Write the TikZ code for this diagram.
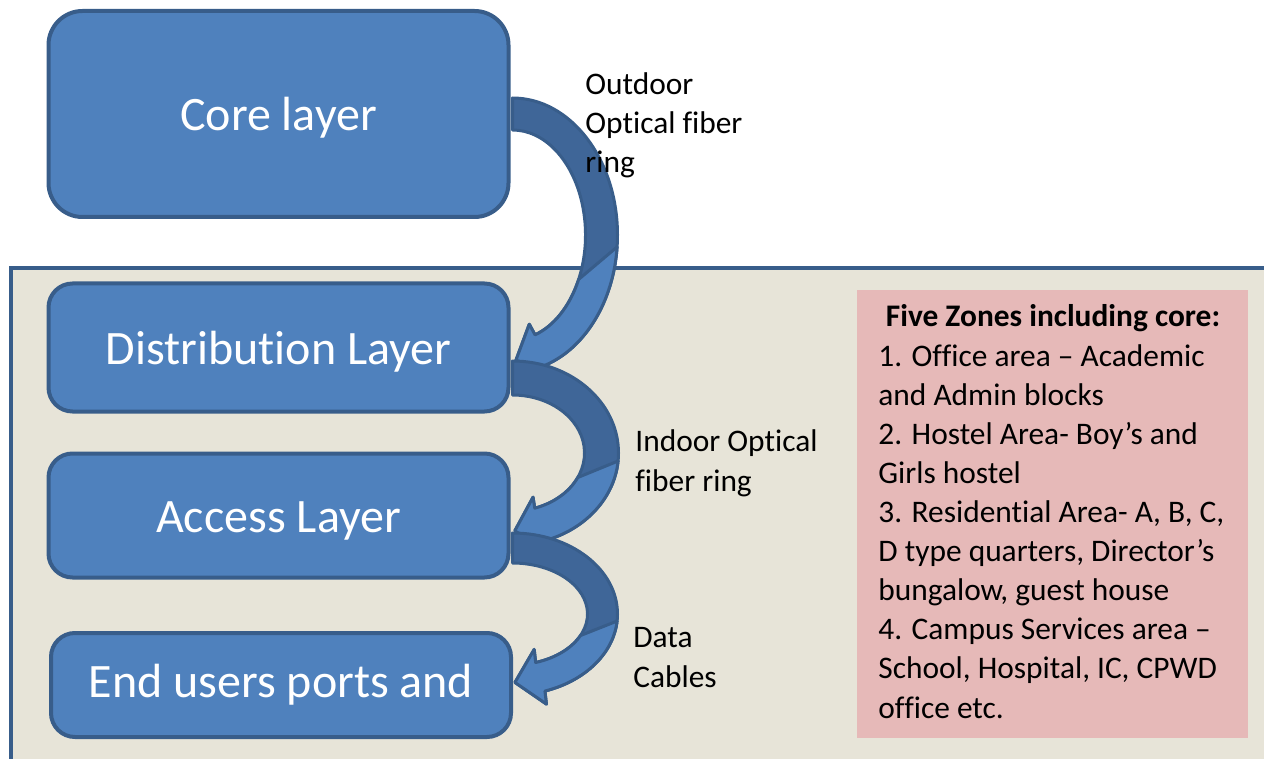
\documentclass[tikz,border=0pt]{standalone}
\usepackage{fontspec}
\setmainfont{Carlito}[Ligatures=NoCommon]
\usetikzlibrary{calc}

\definecolor{layerblue}{HTML}{4F81BD}
\definecolor{layeredge}{HTML}{385D8A}
\definecolor{ringdark}{HTML}{3F6698}
\definecolor{campus}{HTML}{E7E4D8}
\definecolor{zonepink}{HTML}{E6B9B8}

% curved arrow: #1 name, #2 start coordinate, #3 rx, #4 ry, #5 half band
\newcommand{\ringarrow}[5]{%
 \coordinate (#1c) at ($(#2)+(0,-#4)$);
 \coordinate (#1e) at ($(#1c)+(-72:#3 and #4)$);
 \coordinate (#1f) at ($(#1c)+(-74:#3 and #4)$);
 \coordinate (#1t) at ($(#1e)!13pt!(#1f)$);
 \coordinate (#1o) at ($(#1e)!14pt!90:(#1f)$);
 \coordinate (#1i) at ($(#1e)!14pt!-90:(#1f)$);
 \filldraw[ringback] ($(#1c)+(90:{#3+#5} and {#4+#5})$)
   arc[start angle=90,end angle=-72,x radius={#3+#5},y radius={#4+#5}]
   -- (#1o) -- (#1t) -- (#1i) -- ($(#1c)+(-72:{#3-#5} and {#4-#5})$)
   arc[start angle=-72,end angle=90,x radius={#3-#5},y radius={#4-#5}] -- cycle;
 \filldraw[ringfront] ($(#1c)+(-5:{#3+#5} and {#4+#5})$)
   arc[start angle=-5,end angle=-72,x radius={#3+#5},y radius={#4+#5}]
   -- (#1o) -- (#1t) -- (#1i) -- ($(#1c)+(-72:{#3-#5} and {#4-#5})$)
   arc[start angle=-72,end angle=-25,x radius={#3-#5},y radius={#4-#5}] -- cycle;
}

\begin{document}
\begin{tikzpicture}[x=0.5pt,y=0.5pt,
 layer/.style={draw=layeredge,fill=layerblue,line width=2pt,rounded corners=12pt,
   text=white,font=\fontsize{24}{28}\selectfont,minimum width=230pt,
   text height=21pt,text depth=4pt},
 ringback/.style={fill=ringdark,draw=layeredge,line width=1.5pt,line join=round},
 ringfront/.style={fill=layerblue,draw=layeredge,line width=1.5pt,line join=round},
 note/.style={font=\fontsize{15.7}{19.55}\selectfont,align=left,inner sep=0pt}]
\useasboundingbox (0,0) rectangle (1264,-759);
\clip (0,0) rectangle (1264,-759);
% campus area
\draw[fill=campus,draw=layeredge,line width=2pt] (11,-268) rectangle (1290,-790);
% layers
\node[layer,minimum height=103pt,rounded corners=17pt] (core) at (278.5,-114) {Core layer};
\node[layer,minimum height=64pt] (dist) at (278.5,-347.5) {Distribution Layer};
\node[layer,minimum height=62pt] (access) at (278.5,-515.5) {Access Layer};
\node[layer,minimum height=52pt,text depth=9pt] (users) at (281,-685) {End users ports and};
% rings between the layers
\coordinate (a0) at ($(core.east)+(2,0)$);
\coordinate (b0) at ($(dist.east)+(2,-30.5)$);
\coordinate (c0) at ($(access.east)+(2,-32.5)$);
\ringarrow{a}{a0}{89}{121}{16}
\ringarrow{b}{b0}{89}{75}{17}
\ringarrow{c}{c0}{90}{66}{15}
% labels (anchored at the baseline of the last line)
\node[note,anchor=base west] (outdoor) at (585,-173) {Outdoor\\Optical fiber\\ring};
\node[note,anchor=base west] (indoor) at (635,-491) {Indoor Optical\\fiber ring};
\node[note,anchor=base west] (cables) at (633,-687) {Data\\Cables};
% zones
\node[fill=zonepink,minimum width=195.5pt,minimum height=224pt,anchor=north west,inner sep=0pt] (zones) at (857,-290) {};
\node[note,font=\fontsize{15.7}{19.55}\selectfont\bfseries,anchor=base] (title) at (1053,-327) {Five Zones including core:};
\node[note,anchor=base west] (list) at (878,-718) {1. Office area – Academic\\
and Admin blocks\\
2. Hostel Area- Boy’s and\\
Girls hostel\\
3. Residential Area- A, B, C,\\
D type quarters, Director’s\\
bungalow, guest house\\
4. Campus Services area –\\
School, Hospital, IC, CPWD\\
office etc.};
\end{tikzpicture}
\end{document}
